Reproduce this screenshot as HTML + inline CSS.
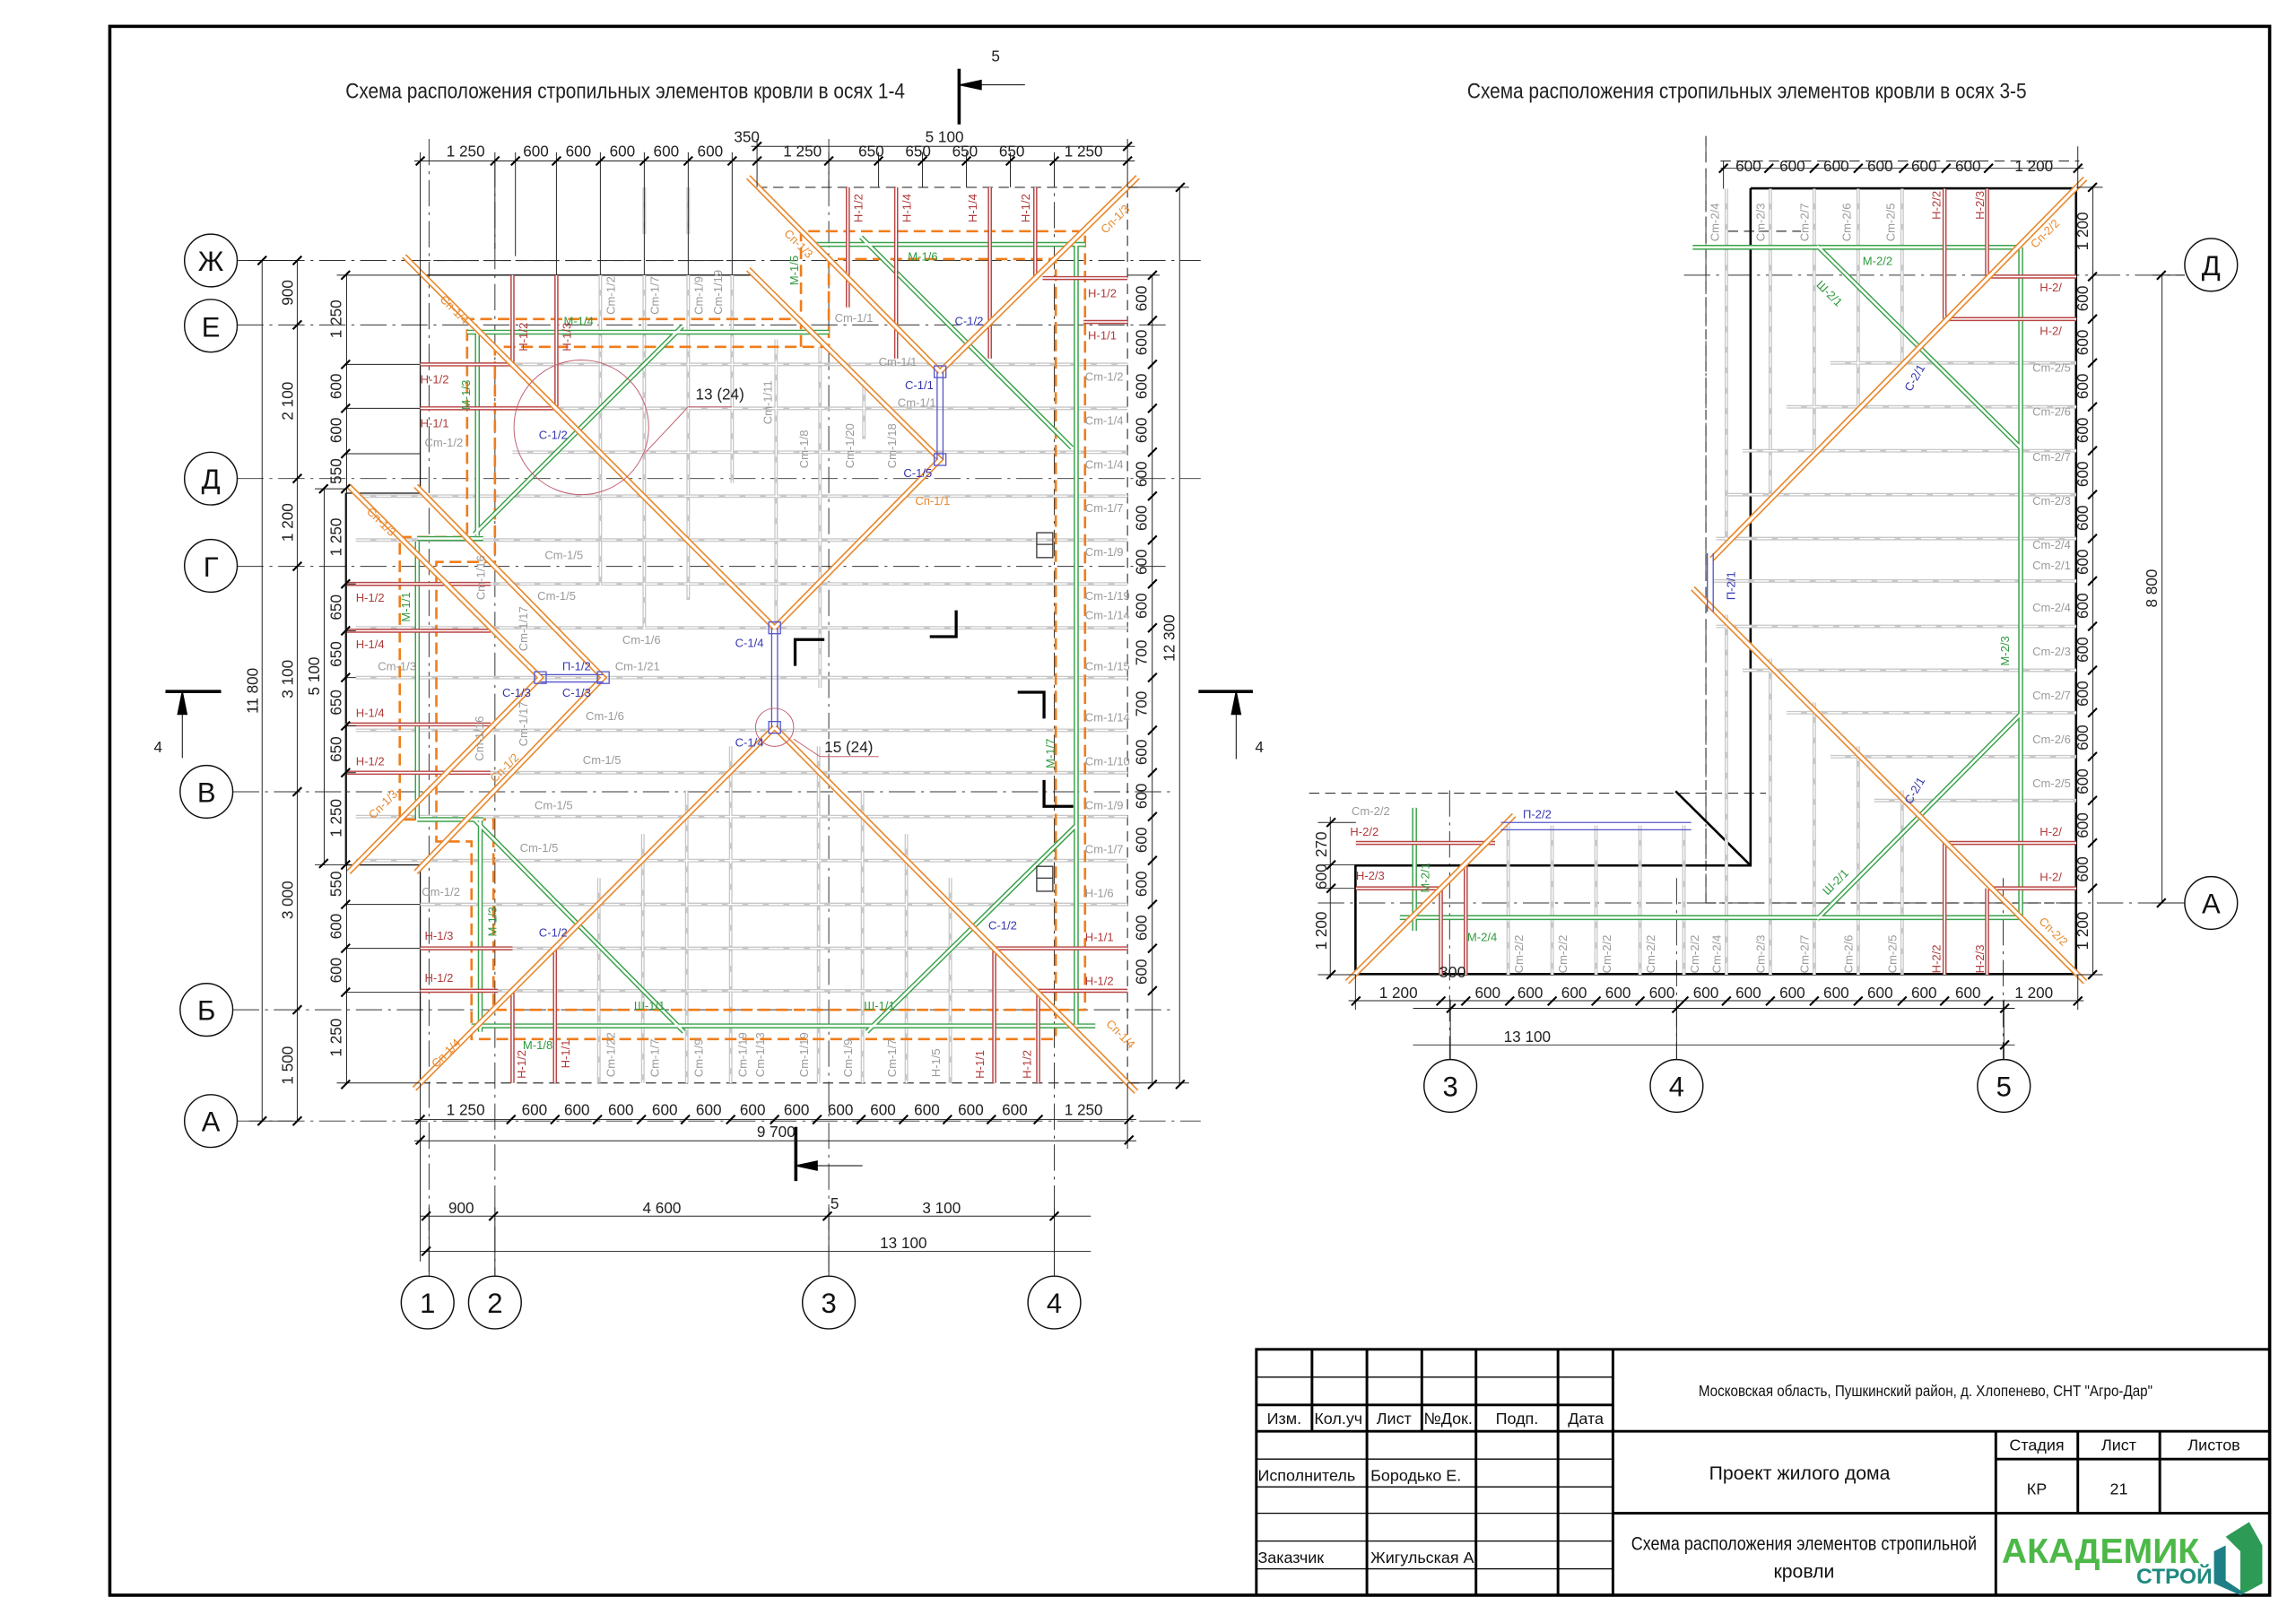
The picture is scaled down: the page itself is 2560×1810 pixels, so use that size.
<!DOCTYPE html>
<html><head><meta charset="utf-8">
<style>
html,body{margin:0;padding:0;background:#fff;}
svg{display:block;}
text{font-family:"Liberation Sans Narrow","Liberation Sans","DejaVu Sans Condensed",sans-serif;}
.d{font-size:10.5px;fill:#222;}
.g{font-size:8px;fill:#9a9a9a;}
.r{font-size:8px;fill:#b03a3a;}
.gr{font-size:8px;fill:#2e9a3e;}
.o{font-size:8px;fill:#e8892e;}
.b{font-size:8px;fill:#3535b0;}
.ax{font-size:19px;fill:#111;}
</style></head>
<body>
<svg width="2560" height="1810" viewBox="0 0 1568 1109" preserveAspectRatio="none" xmlns="http://www.w3.org/2000/svg">
<defs>
<path id="oL" d="M511,121L642,254M777,121L642,254M511,184L642,314L529,429M276,175L529,429M529,497L283,744M529,497L776,746M238,332L369,463L238,596M284,332L412,463L284,596"/>
<path id="oR" d="M1424,122L1169,382M1156,402L1424,671M920,671L1034,557"/>
<path id="gL" d="M319,227H566M326,227V366M555,167H741M466,223L324,365M588,162L732,306M328,560V705M322,701H748M735,167V700M324,560L467,705M592,705L735,564M285,370V560M285,368H330M285,560H330"/>
<path id="gR" d="M1156,169H1380M1380,169V627M956,627H1380M1241,168L1380,306M1241,628L1380,488M966,552V636"/>
<path id="rafL" d="M287,249H770M287,279H770M350,309H770M243,339H770M243,369H770M243,399H770M243,429H770M243,463H770M243,499H770M243,528H770M243,558H770M243,588H770M287,618H770M287,648H770M287,677H770M410,188V400M440,188V430M470,188V410M500,188V330M530,232V429M560,237V470M590,260V300M409,600V740M439,570V740M469,540V740M499,510V740M559,510V740M589,540V740M619,570V740M649,600V740M440,128V160M470,128V160"/>
<path id="rafR" d="M1250,248H1418M1220,278H1418M1190,308H1418M1180,338H1418M1172,368H1418M1170,397H1418M1172,428H1418M1190,458H1418M1220,487H1418M1250,517H1418M1280,547H1418M1179,129V370M1209,129V340M1239,129V310M1269,129V280M1299,129V250M1209,450V666M1239,480V666M1269,510V666M1299,540V666M1179,420V666M1030,564V666M1060,564V666M1090,564V666M1120,564V666M1150,564V666"/>
<path id="redP" d="M287,249H350M287,279H380M350,188V251M380,188V279M579,128V210M612,128V245M676,128V245M707,128V190M712,190H770M740,220H770M236,399H335M236,431H335M236,495H335M236,528H335M287,648H350M287,677H340M379,648V740M350,677V740M679,648H770M709,677H770M679,648V740M709,677V740M1357,189H1418M1328,218H1418M1328,129V218M1357,129V189M1328,576H1418M1357,607H1418M1328,576V666M1357,607V666M926,576H1021M926,607H984M984,607V666M1001,591V666"/>
</defs>

<rect x="75" y="18" width="1475" height="1072" fill="none" stroke="#000" stroke-width="2.2"/>

<text x="427" y="67" text-anchor="middle" font-size="15" textLength="382" lengthAdjust="spacingAndGlyphs" fill="#222">Схема расположения стропильных элементов кровли в осях 1-4</text>
<text x="1193" y="67" text-anchor="middle" font-size="15" textLength="382" lengthAdjust="spacingAndGlyphs" fill="#222">Схема расположения стропильных элементов кровли в осях 3-5</text>

<g stroke="#000" fill="#000">
<line x1="655" y1="47" x2="655" y2="85" stroke-width="2.2"/>
<line x1="665" y1="58" x2="700" y2="58" stroke-width="0.6"/>
<polygon points="656,58 670,55 670,61"/>
<line x1="543.5" y1="770" x2="543.5" y2="807" stroke-width="2.2"/>
<line x1="553" y1="796.5" x2="589" y2="796.5" stroke-width="0.6"/>
<polygon points="544,796.5 558,793.5 558,799.5"/>
<line x1="113" y1="472.5" x2="151" y2="472.5" stroke-width="2.2"/>
<line x1="124.5" y1="482" x2="124.5" y2="518" stroke-width="0.6"/>
<polygon points="124.5,473 121.5,488 127.5,488"/>
<line x1="818.5" y1="472.5" x2="855.6" y2="472.5" stroke-width="2.2"/>
<line x1="844.2" y1="482" x2="844.2" y2="518.7" stroke-width="0.6"/>
<polygon points="844.2,473 841.2,488 847.2,488"/>
</g>
<text x="680" y="42" class="d" font-size="17" text-anchor="middle">5</text>
<text x="570" y="826" class="d" font-size="17" text-anchor="middle">5</text>
<text x="108" y="514" class="d" font-size="17" text-anchor="middle">4</text>
<text x="860" y="514" class="d" font-size="17" text-anchor="middle">4</text>

<g stroke="#333" stroke-width="0.6" stroke-dasharray="18,4,2,4" fill="none">
<path d="M162,178H820M162,222H800M162,327H820M162,387H800M159,541H800M159,690H800M162,766H820"/>
<path d="M293,95V872M338,110V872M566,95V872M720,110V872"/>
<path d="M1150,188H1492M900,617H1492M1165,93V617M990,540V724M1145,600V724M1368,600V724"/>
</g>
<g stroke="#333" stroke-width="0.7" stroke-dasharray="7,4" fill="none">
<path d="M517,128H780M287,178H517M770,128V740M287,740H780M894,542H1206M1165,93V617M1165,617H1418M1175,110H1420M1180,158H1230"/>
</g>

<g stroke="#111" stroke-width="0.8" fill="none">
<path d="M287,188H517M287,188V337M236,337H287M236,337V591M236,591H287M287,591V740"/>
</g>
<g stroke="#000" stroke-width="1.6" fill="none">
<path d="M1195.5,128.7H1417.8V665.6H925.7V591.4H1195.5V128.7"/>
<path d="M1144.3,540.6L1195.5,591.4M925.7,665.6L1000.7,591.4"/>
</g>

<use href="#rafL" stroke="#c8c8c8" stroke-width="2.4" fill="none"/>
<use href="#rafL" stroke="#fff" stroke-width="0.8" stroke-dasharray="10,4" fill="none"/>
<use href="#rafR" stroke="#c8c8c8" stroke-width="2.4" fill="none"/>
<use href="#rafR" stroke="#fff" stroke-width="0.8" stroke-dasharray="10,4" fill="none"/>

<g stroke="#f07d1a" stroke-width="1.6" stroke-dasharray="8,4" fill="none">
<path d="M547,237V158H741V690H337V560H273V367H319V218H547"/>
<path d="M338,255V237H566V177H721V710H322V575H298V384H338V255"/>
<path d="M1380,169V627"/>
</g>

<use href="#gL" stroke="#3aa24a" stroke-width="3.4" fill="none"/>
<use href="#gL" stroke="#fff" stroke-width="1.6" fill="none"/>
<use href="#gR" stroke="#3aa24a" stroke-width="3.4" fill="none"/>
<use href="#gR" stroke="#fff" stroke-width="1.6" fill="none"/>

<use href="#redP" stroke="#b84444" stroke-width="2.8" fill="none"/>
<use href="#redP" stroke="#fff" stroke-width="1" fill="none"/>

<use href="#oL" stroke="#e8892e" stroke-width="4" fill="none"/>
<use href="#oL" stroke="#fff" stroke-width="2" fill="none"/>
<use href="#oR" stroke="#e8892e" stroke-width="4" fill="none"/>
<use href="#oR" stroke="#fff" stroke-width="2" fill="none"/>

<g stroke="#5555cc" stroke-width="0.8" fill="none">
<path d="M640,254V314M644,254V314M527,429V497M531,429V497M369,461H412M369,466H412M1025,562H1155M1025,567H1155M1166,378V418M1170,378V418"/>
<rect x="638" y="250" width="8" height="8"/><rect x="638" y="310" width="8" height="8"/>
<rect x="525" y="425" width="8" height="8"/><rect x="525" y="493" width="8" height="8"/>
<rect x="365" y="459" width="8" height="8"/><rect x="408" y="459" width="8" height="8"/>
</g>
<g stroke="#c06070" stroke-width="0.6" fill="none">
<circle cx="397" cy="292" r="46"/>
<circle cx="529" cy="497" r="13"/>
<path d="M440,310L470,278H500M542,505L560,517H600"/>
</g>
<text x="475" y="273" class="d" font-size="12">13 (24)</text>
<text x="563" y="514" class="d" font-size="12">15 (24)</text>
<g stroke="#000" stroke-width="2" fill="none">
<path d="M543,455V437H563M635,435H653V417M695,473H713V491M713,533V551H733"/>
</g>
<g stroke="#333" stroke-width="0.8" fill="none">
<rect x="708" y="364" width="11" height="17"/><path d="M708,372H719"/>
<rect x="708" y="592" width="11" height="17"/><path d="M708,600H719"/>
</g>

<text class="g" x="372" y="382">Cm-1/5</text><text class="g" x="367" y="410">Cm-1/5</text>
<text class="g" x="425" y="440">Cm-1/6</text><text class="g" x="420" y="458">Cm-1/21</text>
<text class="g" x="400" y="492">Cm-1/6</text><text class="g" x="398" y="522">Cm-1/5</text>
<text class="g" x="365" y="553">Cm-1/5</text><text class="g" x="355" y="582">Cm-1/5</text>
<text class="g" x="290" y="305">Cm-1/2</text><text class="g" x="288" y="612">Cm-1/2</text>
<text class="g" x="258" y="458">Cm-1/3</text><text class="g" x="600" y="250">Cm-1/1</text>
<text class="g" x="570" y="220">Cm-1/1</text><text class="g" x="613" y="278">Cm-1/1</text>
<text class="g" x="741" y="260">Cm-1/2</text><text class="g" x="741" y="290">Cm-1/4</text>
<text class="g" x="741" y="320">Cm-1/4</text><text class="g" x="741" y="350">Cm-1/7</text>
<text class="g" x="741" y="380">Cm-1/9</text><text class="g" x="741" y="410">Cm-1/19</text>
<text class="g" x="741" y="423">Cm-1/14</text><text class="g" x="741" y="458">Cm-1/15</text>
<text class="g" x="741" y="493">Cm-1/14</text><text class="g" x="741" y="523">Cm-1/10</text>
<text class="g" x="741" y="553">Cm-1/9</text><text class="g" x="741" y="583">Cm-1/7</text>
<text class="g" x="741" y="613">H-1/6</text>
<text class="r" x="741" y="643">H-1/1</text><text class="r" x="741" y="673">H-1/2</text>
<text class="r" x="743" y="203">H-1/2</text><text class="r" x="743" y="232">H-1/1</text>
<text class="r" x="287" y="262">H-1/2</text><text class="r" x="287" y="292">H-1/1</text>
<text class="r" x="243" y="411">H-1/2</text><text class="r" x="243" y="443">H-1/4</text>
<text class="r" x="243" y="490">H-1/4</text><text class="r" x="243" y="523">H-1/2</text>
<text class="r" x="290" y="642">H-1/3</text><text class="r" x="290" y="671">H-1/2</text>
<text class="gr" x="385" y="222">M-1/4</text><text class="gr" x="620" y="178">M-1/6</text>
<text class="o" x="625" y="345">Сп-1/1</text><text class="b" x="618" y="266">С-1/1</text>
<text class="b" x="617" y="326">С-1/5</text><text class="b" x="502" y="442">С-1/4</text>
<text class="b" x="502" y="510">С-1/4</text><text class="b" x="343" y="476">С-1/3</text>
<text class="b" x="384" y="476">С-1/3</text><text class="b" x="384" y="458">П-1/2</text>
<text class="b" x="652" y="222">С-1/2</text><text class="b" x="368" y="300">С-1/2</text>
<text class="b" x="368" y="640">С-1/2</text><text class="b" x="675" y="635">С-1/2</text>
<text class="gr" x="590" y="690">Ш-1/1</text><text class="gr" x="433" y="690">Ш-1/1</text>
<text class="gr" x="357" y="717">M-1/8</text>
<g class="g" font-size="8">
<text transform="translate(552,320) rotate(-90)">Cm-1/8</text>
<text transform="translate(583,320) rotate(-90)">Cm-1/20</text>
<text transform="translate(612,320) rotate(-90)">Cm-1/18</text>
<text transform="translate(527,290) rotate(-90)">Cm-1/11</text>
<text transform="translate(420,215) rotate(-90)">Cm-1/2</text>
<text transform="translate(450,215) rotate(-90)">Cm-1/7</text>
<text transform="translate(480,215) rotate(-90)">Cm-1/9</text>
<text transform="translate(493,215) rotate(-90)">Cm-1/19</text>
<text transform="translate(420,736) rotate(-90)">Cm-1/22</text>
<text transform="translate(450,736) rotate(-90)">Cm-1/7</text>
<text transform="translate(480,736) rotate(-90)">Cm-1/9</text>
<text transform="translate(510,736) rotate(-90)">Cm-1/19</text>
<text transform="translate(522,736) rotate(-90)">Cm-1/13</text>
<text transform="translate(552,736) rotate(-90)">Cm-1/19</text>
<text transform="translate(582,736) rotate(-90)">Cm-1/9</text>
<text transform="translate(612,736) rotate(-90)">Cm-1/7</text>
<text transform="translate(642,736) rotate(-90)">H-1/5</text>
<text transform="translate(360,445) rotate(-90)">Cm-1/17</text>
<text transform="translate(360,510) rotate(-90)">Cm-1/17</text>
<text transform="translate(330,520) rotate(-90)">Cm-1/16</text>
<text transform="translate(331,410) rotate(-90)">Cm-1/16</text>
</g>
<g class="r">
<text transform="translate(360,240) rotate(-90)">H-1/2</text>
<text transform="translate(390,240) rotate(-90)">H-1/3</text>
<text transform="translate(589,152) rotate(-90)">H-1/2</text>
<text transform="translate(622,152) rotate(-90)">H-1/4</text>
<text transform="translate(667,152) rotate(-90)">H-1/4</text>
<text transform="translate(703,152) rotate(-90)">H-1/2</text>
<text transform="translate(359,737) rotate(-90)">H-1/2</text>
<text transform="translate(389,730) rotate(-90)">H-1/1</text>
<text transform="translate(672,737) rotate(-90)">H-1/1</text>
<text transform="translate(704,737) rotate(-90)">H-1/2</text>
</g>
<g class="gr">
<text transform="translate(321,280) rotate(-90)">M-1/3</text>
<text transform="translate(280,425) rotate(-90)">M-1/1</text>
<text transform="translate(339,640) rotate(-90)">M-1/3</text>
<text transform="translate(720,525) rotate(-90)">M-1/7</text>
<text transform="translate(545,195) rotate(-90)">M-1/5</text>
</g>
<g class="o">
<text transform="translate(300,205) rotate(45)">Сп-1/4</text>
<text transform="translate(535,160) rotate(45)">Сп-1/3</text>
<text transform="translate(755,160) rotate(-45)">Сп-1/3</text>
<text transform="translate(250,350) rotate(45)">Сп-1/3</text>
<text transform="translate(255,560) rotate(-45)">Сп-1/3</text>
<text transform="translate(338,535) rotate(-45)">Сп-1/2</text>
<text transform="translate(298,730) rotate(-45)">Сп-1/4</text>
<text transform="translate(755,700) rotate(45)">Сп-1/4</text>
</g>

<g class="g">
<text x="1388" y="254">Cm-2/5</text><text x="1388" y="284">Cm-2/6</text><text x="1388" y="315">Cm-2/7</text>
<text x="1388" y="345">Cm-2/3</text><text x="1388" y="375">Cm-2/4</text><text x="1388" y="389">Cm-2/1</text>
<text x="1388" y="418">Cm-2/4</text><text x="1388" y="448">Cm-2/3</text><text x="1388" y="478">Cm-2/7</text>
<text x="1388" y="508">Cm-2/6</text><text x="1388" y="538">Cm-2/5</text><text x="923" y="557">Cm-2/2</text>
</g>
<g class="r"><text x="1393" y="199">H-2/</text><text x="1393" y="229">H-2/</text><text x="1393" y="571">H-2/</text><text x="1393" y="602">H-2/</text>
<text x="922" y="571">H-2/2</text><text x="926" y="601">H-2/3</text></g>
<g class="gr"><text x="1272" y="181">M-2/2</text><text x="1002" y="643">M-2/4</text></g>
<text class="b" x="1040" y="559">П-2/2</text>
<g class="g">
<text transform="translate(1174,165) rotate(-90)">Cm-2/4</text>
<text transform="translate(1205,165) rotate(-90)">Cm-2/3</text>
<text transform="translate(1235,165) rotate(-90)">Cm-2/7</text>
<text transform="translate(1264,165) rotate(-90)">Cm-2/6</text>
<text transform="translate(1294,165) rotate(-90)">Cm-2/5</text>
<text transform="translate(1040,665) rotate(-90)">Cm-2/2</text>
<text transform="translate(1070,665) rotate(-90)">Cm-2/2</text>
<text transform="translate(1100,665) rotate(-90)">Cm-2/2</text>
<text transform="translate(1130,665) rotate(-90)">Cm-2/2</text>
<text transform="translate(1160,665) rotate(-90)">Cm-2/2</text>
<text transform="translate(1175,665) rotate(-90)">Cm-2/4</text>
<text transform="translate(1205,665) rotate(-90)">Cm-2/3</text>
<text transform="translate(1235,665) rotate(-90)">Cm-2/7</text>
<text transform="translate(1265,665) rotate(-90)">Cm-2/6</text>
<text transform="translate(1295,665) rotate(-90)">Cm-2/5</text>
</g>
<g class="r"><text transform="translate(1325,150) rotate(-90)">H-2/2</text><text transform="translate(1355,150) rotate(-90)">H-2/3</text>
<text transform="translate(1325,665) rotate(-90)">H-2/2</text><text transform="translate(1355,665) rotate(-90)">H-2/3</text></g>
<g class="gr"><text transform="translate(1372,455) rotate(-90)">M-2/3</text><text transform="translate(976,610) rotate(-90)">M-2/1</text></g>
<g class="b"><text transform="translate(1185,410) rotate(-90)">П-2/1</text>
<text transform="translate(1305,268) rotate(-60)">С-2/1</text><text transform="translate(1305,550) rotate(-60)">С-2/1</text></g>
<g class="o"><text transform="translate(1390,170) rotate(-45)">Сп-2/2</text><text transform="translate(1392,630) rotate(45)">Сп-2/2</text></g>
<g class="gr"><text transform="translate(1240,195) rotate(45)">Ш-2/1</text><text transform="translate(1248,612) rotate(-45)">Ш-2/1</text></g>

<g stroke="#222" stroke-width="0.6" fill="none">
<path d="M283,110H520M513,100H775M513,110H775"/>
<path d="M287,104V188M338,104V170M352,104V175M380,104V188M410,104V188M440,104V188M470,104V188M500,104V188M517,95V128M566,104V128M600,104V128M630,104V128M660,104V128M690,104V128M720,104V128M770,95V128"/>
<path d="M283,765H776M283,779.5H776M287,831H745M287,855H745"/>
<path d="M287,740V862M770,740V785M293,825V872M338,825V872M566,825V872M720,825V872"/>
<path d="M179,178V766M203,178V766M221.4,334V591M236.7,188V741M170,178H200M170,766H200M230,188H287M230,740H287M215,334H236M215,591H236"/>
<path d="M236,249H287M236,279H287M236,310H287M236,399H243M236,431H243M236,463H243M236,496H243M236,528H243M236,618H287M236,648H287M236,678H287"/>
<path d="M786.9,188V741M805.6,128V741M770,128H812M770,740H812M770,188H792"/>
<path d="M1175,115H1423M1177,110V129M1419,100V129"/>
<path d="M1429.3,128V666M1476.5,188V617M1418,128H1436M1418,666H1436M1470,188H1492M1470,617H1492"/>
<path d="M921,683.8H1423M965,689H1376M965,714H1376M925.7,666V690M1419,666V690M990.5,683V724M1145,683V724M1368.5,683V724"/>
<path d="M908.5,558V668M900,562H926M900,591H926M900,607H926M900,666H926"/>
</g>
<g stroke="#000" stroke-width="1.3">
<path d="M284,113L290,107M335,113L341,107M349,113L355,107M377,113L383,107M407,113L413,107M437,113L443,107M467,113L473,107M497,113L503,107M514,113L520,107M563,113L569,107M597,113L603,107M627,113L633,107M657,113L663,107M687,113L693,107M717,113L723,107M767,113L773,107M514,103L520,97M767,103L773,97"/>
<path d="M284,768L290,762M346,768L352,762M376,768L382,762M405,768L411,762M435,768L441,762M465,768L471,762M496,768L502,762M526,768L532,762M555,768L561,762M585,768L591,762M614,768L620,762M644,768L650,762M674,768L680,762M706,768L712,762M768,768L774,762M284,782L290,776M768,782L774,776"/>
<path d="M288,834L294,828M334,834L340,828M562,834L568,828M717,834L723,828M288,858L294,852"/>
<path d="M176,181L182,175M176,769L182,763M200,181L206,175M200,225L206,219M200,330L206,324M200,390L206,384M200,544L206,538M200,693L206,687M200,769L206,763M218,337L224,331M218,593L224,587"/>
<path d="M233,191L239,185M233,252L239,246M233,282L239,276M233,313L239,307M233,337L239,331M233,402L239,396M233,434L239,428M233,466L239,460M233,499L239,493M233,531L239,525M233,594L239,588M233,621L239,615M233,651L239,645M233,681L239,675M233,744L239,738"/>
<path d="M784,191L790,185M784,222L790,216M784,252L790,246M784,282L790,276M784,312L790,306M784,342L790,336M784,372L790,366M784,402L790,396M784,432L790,426M784,466L790,460M784,502L790,496M784,531L790,525M784,561L790,555M784,591L790,585M784,621L790,615M784,651L790,645M784,680L790,674M784,744L790,738M803,131L809,125M803,744L809,738"/>
<path d="M1174,118L1180,112M1205,118L1211,112M1236,118L1242,112M1266,118L1272,112M1297,118L1303,112M1326,118L1332,112M1355,118L1361,112M1416,118L1422,112"/>
<path d="M1426,131L1432,125M1426,192L1432,186M1426,221L1432,215M1426,251L1432,245M1426,281L1432,275M1426,311L1432,305M1426,341L1432,335M1426,371L1432,365M1426,400L1432,394M1426,431L1432,425M1426,461L1432,455M1426,490L1432,484M1426,520L1432,514M1426,550L1432,544M1426,579L1432,573M1426,610L1432,604M1426,669L1432,663M1473,191L1479,185M1473,620L1479,614"/>
<path d="M923,687L929,681M981,687L987,681M998,687L1004,681M1028,687L1034,681M1057,687L1063,681M1087,687L1093,681M1117,687L1123,681M1147,687L1153,681M1176,687L1182,681M1206,687L1212,681M1236,687L1242,681M1266,687L1272,681M1296,687L1302,681M1325,687L1331,681M1355,687L1361,681M1416,687L1422,681M988,692L994,686M1142,692L1148,686M1366,692L1372,686M1366,717L1372,711"/>
<path d="M906,565L912,559M906,594L912,588M906,610L912,604M906,669L912,663"/>
</g>

<g class="d" text-anchor="middle">
<text x="318" y="107">1 250</text><text x="366" y="107">600</text><text x="395" y="107">600</text><text x="425" y="107">600</text><text x="455" y="107">600</text><text x="485" y="107">600</text>
<text x="510" y="97">350</text><text x="645" y="97">5 100</text>
<text x="548" y="107">1 250</text><text x="595" y="107">650</text><text x="627" y="107">650</text><text x="659" y="107">650</text><text x="691" y="107">650</text><text x="740" y="107">1 250</text>
<text x="318" y="762">1 250</text><text x="365" y="762">600</text><text x="394" y="762">600</text><text x="424" y="762">600</text><text x="454" y="762">600</text><text x="484" y="762">600</text><text x="514" y="762">600</text><text x="544" y="762">600</text><text x="574" y="762">600</text><text x="603" y="762">600</text><text x="633" y="762">600</text><text x="663" y="762">600</text><text x="693" y="762">600</text><text x="740" y="762">1 250</text>
<text x="530" y="777">9 700</text>
<text x="315" y="829">900</text><text x="452" y="829">4 600</text><text x="643" y="829">3 100</text>
<text x="617" y="853">13 100</text>
<text x="1194" y="117">600</text><text x="1224" y="117">600</text><text x="1254" y="117">600</text><text x="1284" y="117">600</text><text x="1314" y="117">600</text><text x="1344" y="117">600</text><text x="1389" y="117">1 200</text>
<text x="955" y="682">1 200</text><text x="1016" y="682">600</text><text x="1045" y="682">600</text><text x="1075" y="682">600</text><text x="1105" y="682">600</text><text x="1135" y="682">600</text><text x="1165" y="682">600</text><text x="1194" y="682">600</text><text x="1224" y="682">600</text><text x="1254" y="682">600</text><text x="1284" y="682">600</text><text x="1314" y="682">600</text><text x="1344" y="682">600</text><text x="1389" y="682">1 200</text>
<text x="1043" y="712">13 100</text><text x="992" y="668" font-size="11">300</text>
</g>
<g class="d" text-anchor="middle">
<text transform="translate(176,472) rotate(-90)">11 800</text>
<text transform="translate(200,200) rotate(-90)">900</text>
<text transform="translate(200,274) rotate(-90)">2 100</text>
<text transform="translate(200,357) rotate(-90)">1 200</text>
<text transform="translate(200,464) rotate(-90)">3 100</text>
<text transform="translate(200,615) rotate(-90)">3 000</text>
<text transform="translate(200,728) rotate(-90)">1 500</text>
<text transform="translate(218,462) rotate(-90)">5 100</text>
<text transform="translate(233,218) rotate(-90)">1 250</text>
<text transform="translate(233,264) rotate(-90)">600</text>
<text transform="translate(233,294) rotate(-90)">600</text>
<text transform="translate(233,322) rotate(-90)">550</text>
<text transform="translate(233,367) rotate(-90)">1 250</text>
<text transform="translate(233,415) rotate(-90)">650</text>
<text transform="translate(233,447) rotate(-90)">650</text>
<text transform="translate(233,480) rotate(-90)">650</text>
<text transform="translate(233,512) rotate(-90)">650</text>
<text transform="translate(233,559) rotate(-90)">1 250</text>
<text transform="translate(233,604) rotate(-90)">550</text>
<text transform="translate(233,633) rotate(-90)">600</text>
<text transform="translate(233,663) rotate(-90)">600</text>
<text transform="translate(233,709) rotate(-90)">1 250</text>
<text transform="translate(783,204) rotate(-90)">600</text>
<text transform="translate(783,234) rotate(-90)">600</text>
<text transform="translate(783,264) rotate(-90)">600</text>
<text transform="translate(783,294) rotate(-90)">600</text>
<text transform="translate(783,324) rotate(-90)">600</text>
<text transform="translate(783,354) rotate(-90)">600</text>
<text transform="translate(783,384) rotate(-90)">600</text>
<text transform="translate(783,414) rotate(-90)">600</text>
<text transform="translate(783,446) rotate(-90)">700</text>
<text transform="translate(783,481) rotate(-90)">700</text>
<text transform="translate(783,514) rotate(-90)">600</text>
<text transform="translate(783,544) rotate(-90)">600</text>
<text transform="translate(783,574) rotate(-90)">600</text>
<text transform="translate(783,604) rotate(-90)">600</text>
<text transform="translate(783,634) rotate(-90)">600</text>
<text transform="translate(783,664) rotate(-90)">600</text>
<text transform="translate(802,436) rotate(-90)">12 300</text>
<text transform="translate(1426,158) rotate(-90)">1 200</text>
<text transform="translate(1426,204) rotate(-90)">600</text>
<text transform="translate(1426,234) rotate(-90)">600</text>
<text transform="translate(1426,264) rotate(-90)">600</text>
<text transform="translate(1426,294) rotate(-90)">600</text>
<text transform="translate(1426,324) rotate(-90)">600</text>
<text transform="translate(1426,354) rotate(-90)">600</text>
<text transform="translate(1426,384) rotate(-90)">600</text>
<text transform="translate(1426,414) rotate(-90)">600</text>
<text transform="translate(1426,444) rotate(-90)">600</text>
<text transform="translate(1426,474) rotate(-90)">600</text>
<text transform="translate(1426,504) rotate(-90)">600</text>
<text transform="translate(1426,534) rotate(-90)">600</text>
<text transform="translate(1426,564) rotate(-90)">600</text>
<text transform="translate(1426,594) rotate(-90)">600</text>
<text transform="translate(1426,636) rotate(-90)">1 200</text>
<text transform="translate(1473,402) rotate(-90)">8 800</text>
<text transform="translate(906,577) rotate(-90)">270</text>
<text transform="translate(906,599) rotate(-90)">600</text>
<text transform="translate(906,636) rotate(-90)">1 200</text>
</g>

<g fill="#fff" stroke="#111" stroke-width="0.9">
<circle cx="144" cy="178" r="18"/><circle cx="144" cy="222.6" r="18"/><circle cx="144" cy="327" r="18"/><circle cx="144" cy="386.6" r="18"/><circle cx="141" cy="541" r="18"/><circle cx="141" cy="690" r="18"/><circle cx="144" cy="766" r="18"/>
<circle cx="292" cy="890" r="18"/><circle cx="338" cy="890" r="18"/><circle cx="566" cy="890" r="18"/><circle cx="720" cy="890" r="18"/>
<circle cx="1510" cy="181" r="18"/><circle cx="1510" cy="617" r="18"/>
<circle cx="990.5" cy="742" r="18"/><circle cx="1145" cy="742" r="18"/><circle cx="1368.5" cy="742" r="18"/>
</g>
<g class="ax" text-anchor="middle">
<text x="144" y="185">Ж</text><text x="144" y="230">Е</text><text x="144" y="334">Д</text><text x="144" y="394">Г</text><text x="141" y="548">В</text><text x="141" y="697">Б</text><text x="144" y="773">А</text>
<text x="292" y="897">1</text><text x="338" y="897">2</text><text x="566" y="897">3</text><text x="720" y="897">4</text>
<text x="1510" y="188">Д</text><text x="1510" y="624">А</text>
<text x="990.5" y="749">3</text><text x="1145" y="749">4</text><text x="1368.5" y="749">5</text>
</g>

<g stroke="#000" stroke-width="1.8" fill="none">
<rect x="858" y="922" width="692" height="168"/>
<path d="M1101.5,922V1090M858,960H1101.5M858,978H1550M1101.5,1034H1550M1363,978V1090M1363,997H1550M1419,978V1034M1475,978V1034"/>
<path d="M896,922V978M933.5,922V1090M971,922V978M1008,922V1090M1064,922V1090"/>
</g>
<g stroke="#000" stroke-width="0.8" fill="none">
<path d="M858,941H1101.5M858,997H1101.5M858,1016H1101.5M858,1034H1101.5M858,1053H1101.5M858,1072H1101.5"/>
</g>
<g font-size="11" fill="#111">
<text x="877" y="973" text-anchor="middle">Изм.</text><text x="914" y="973" text-anchor="middle">Кол.уч</text><text x="952" y="973" text-anchor="middle">Лист</text><text x="989" y="973" text-anchor="middle">№Док.</text><text x="1036" y="973" text-anchor="middle">Подп.</text><text x="1083" y="973" text-anchor="middle">Дата</text>
<text x="859" y="1012">Исполнитель</text><text x="936" y="1012">Бородько Е.</text>
<text x="859" y="1068">Заказчик</text><text x="936" y="1068">Жигульская А.</text>
<text x="1315" y="954" text-anchor="middle" textLength="310" lengthAdjust="spacingAndGlyphs">Московская область, Пушкинский район, д. Хлопенево, СНТ "Агро-Дар"</text>
<text x="1229" y="1011" text-anchor="middle" font-size="13">Проект жилого дома</text>
<text x="1232" y="1059" text-anchor="middle" font-size="13" textLength="236" lengthAdjust="spacingAndGlyphs">Схема расположения элементов стропильной</text>
<text x="1232" y="1078" text-anchor="middle" font-size="13">кровли</text>
<text x="1391" y="991" text-anchor="middle">Стадия</text><text x="1447" y="991" text-anchor="middle">Лист</text><text x="1512" y="991" text-anchor="middle">Листов</text>
<text x="1391" y="1021" text-anchor="middle">КР</text><text x="1447" y="1021" text-anchor="middle">21</text>
</g>
<text x="1367" y="1068" font-size="24" font-weight="bold" fill="#4cb848" textLength="135" lengthAdjust="spacingAndGlyphs">АКАДЕМИК</text>
<text x="1459" y="1082" font-size="15" font-weight="bold" fill="#1f8a80">СТРОЙ</text>
<polygon points="1520,1050 1536,1040 1545,1056 1545,1082 1530,1090 1530,1060" fill="#2d9a55"/>
<polygon points="1512,1060 1520,1056 1520,1080 1532,1088 1530,1090 1512,1082" fill="#1e7f86"/>
</svg>
</body></html>
